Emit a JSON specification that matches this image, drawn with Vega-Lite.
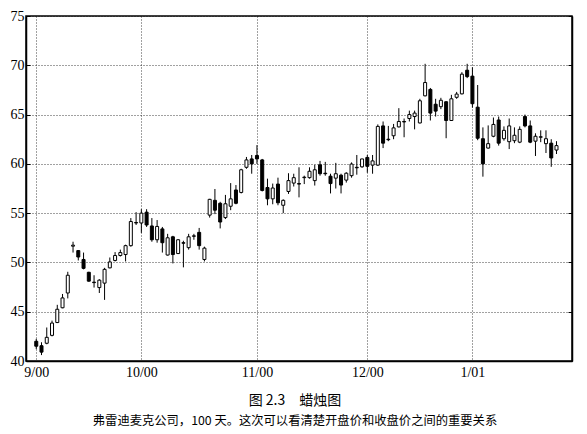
{
  "$schema": "https://vega.github.io/schema/vega-lite/v6.json",
  "width": 546,
  "height": 345,
  "autosize": {"type": "none"},
  "padding": {"left": 26, "top": 16, "right": 15, "bottom": 73},
  "background": "white",
  "config": {
    "view": {"stroke": "black", "strokeWidth": 1.5},
    "axis": {
      "labelFont": "Liberation Serif, Times New Roman, serif",
      "labelFontSize": 14,
      "labelColor": "black",
      "domainColor": "black",
      "domainWidth": 1.5,
      "tickColor": "black",
      "gridColor": "#111111",
      "gridDash": [1, 2],
      "gridWidth": 0.8,
      "gridOpacity": 1,
      "title": null
    }
  },
  "title": {
    "text": "图 2.3　蜡烛图",
    "subtitle": "弗雷迪麦克公司，100 天。这次可以看清楚开盘价和收盘价之间的重要关系",
    "orient": "bottom",
    "anchor": "middle",
    "font": "Noto Sans CJK SC",
    "fontSize": 14,
    "fontWeight": "normal",
    "color": "black",
    "subtitleFont": "Noto Sans CJK SC",
    "subtitleFontSize": 12.3,
    "subtitleColor": "black",
    "offset": 15,
    "subtitlePadding": 7,
    "dx": -4
  },
  "data": {
    "values": [
      {"i": 0, "open": 42.0, "high": 42.25, "low": 41.2, "close": 41.5},
      {"i": 1, "open": 41.55, "high": 41.9, "low": 40.6, "close": 40.9},
      {"i": 2, "open": 41.8, "high": 43.4, "low": 41.7, "close": 42.4},
      {"i": 3, "open": 42.6, "high": 44.1, "low": 42.5, "close": 43.85},
      {"i": 4, "open": 43.9, "high": 45.7, "low": 43.85, "close": 45.25},
      {"i": 5, "open": 45.4, "high": 46.8, "low": 45.35, "close": 46.4},
      {"i": 6, "open": 46.9, "high": 49.05, "low": 46.35, "close": 48.7},
      {"i": 7, "open": 51.65, "high": 52.1, "low": 51.0, "close": 51.75},
      {"i": 8, "open": 51.2, "high": 51.25, "low": 50.2, "close": 50.55},
      {"i": 9, "open": 50.3, "high": 51.0, "low": 49.3, "close": 49.4},
      {"i": 10, "open": 49.0, "high": 49.05, "low": 48.05, "close": 48.1},
      {"i": 11, "open": 48.0, "high": 48.7, "low": 47.45, "close": 47.95},
      {"i": 12, "open": 47.45, "high": 48.3, "low": 46.9, "close": 48.2},
      {"i": 13, "open": 47.9, "high": 49.45, "low": 46.2, "close": 49.3},
      {"i": 14, "open": 49.45, "high": 50.5, "low": 49.4, "close": 50.05},
      {"i": 15, "open": 50.2, "high": 51.05, "low": 50.1, "close": 50.7},
      {"i": 16, "open": 50.7, "high": 51.3, "low": 50.6, "close": 51.0},
      {"i": 17, "open": 50.8, "high": 51.8, "low": 50.1, "close": 51.7},
      {"i": 18, "open": 51.7, "high": 54.5, "low": 51.6, "close": 54.15},
      {"i": 19, "open": 54.05, "high": 55.1, "low": 53.8, "close": 54.0},
      {"i": 20, "open": 54.0, "high": 55.4, "low": 53.0, "close": 55.0},
      {"i": 21, "open": 55.1, "high": 55.4, "low": 53.6, "close": 53.8},
      {"i": 22, "open": 53.7, "high": 54.5, "low": 52.1, "close": 52.3},
      {"i": 23, "open": 52.3, "high": 54.3, "low": 52.0, "close": 53.65},
      {"i": 24, "open": 53.4, "high": 53.6, "low": 51.0, "close": 52.0},
      {"i": 25, "open": 50.75, "high": 52.9, "low": 50.7, "close": 52.5},
      {"i": 26, "open": 52.6, "high": 52.7, "low": 49.9, "close": 50.8},
      {"i": 27, "open": 50.9, "high": 52.35, "low": 50.85, "close": 52.3},
      {"i": 28, "open": 52.0, "high": 52.2, "low": 49.5, "close": 51.95},
      {"i": 29, "open": 51.5, "high": 52.9, "low": 51.3, "close": 52.6},
      {"i": 30, "open": 52.65, "high": 52.9, "low": 52.3, "close": 52.7},
      {"i": 31, "open": 53.05, "high": 53.5, "low": 51.3, "close": 51.7},
      {"i": 32, "open": 50.3, "high": 51.6, "low": 50.1, "close": 51.45},
      {"i": 33, "open": 54.8, "high": 56.45, "low": 54.55, "close": 56.4},
      {"i": 34, "open": 56.3, "high": 57.45, "low": 54.9, "close": 55.3},
      {"i": 35, "open": 56.0, "high": 56.15, "low": 53.45, "close": 54.1},
      {"i": 36, "open": 54.55, "high": 56.85, "low": 54.4, "close": 55.95},
      {"i": 37, "open": 55.7, "high": 58.05, "low": 55.3, "close": 56.45},
      {"i": 38, "open": 57.35, "high": 57.85, "low": 55.9, "close": 56.0},
      {"i": 39, "open": 57.1, "high": 59.5, "low": 57.0, "close": 59.4},
      {"i": 40, "open": 59.65, "high": 60.7, "low": 59.5, "close": 60.4},
      {"i": 41, "open": 60.5, "high": 60.9, "low": 59.0, "close": 60.0},
      {"i": 42, "open": 60.85, "high": 61.9, "low": 60.0, "close": 60.5},
      {"i": 43, "open": 60.4, "high": 60.5, "low": 57.2, "close": 57.3},
      {"i": 44, "open": 57.6, "high": 58.5, "low": 55.8, "close": 56.45},
      {"i": 45, "open": 56.45, "high": 58.0, "low": 55.9, "close": 57.55},
      {"i": 46, "open": 57.95, "high": 58.6, "low": 55.8, "close": 56.05},
      {"i": 47, "open": 55.8, "high": 56.4, "low": 55.0, "close": 56.3},
      {"i": 48, "open": 57.2, "high": 59.05, "low": 56.95, "close": 58.3},
      {"i": 49, "open": 58.05, "high": 59.0, "low": 57.7, "close": 58.6},
      {"i": 50, "open": 58.0, "high": 59.65, "low": 56.6, "close": 57.95},
      {"i": 51, "open": 58.6, "high": 58.8, "low": 57.95, "close": 58.65},
      {"i": 52, "open": 58.6, "high": 59.65, "low": 58.5, "close": 59.25},
      {"i": 53, "open": 58.3, "high": 59.9, "low": 57.8, "close": 59.4},
      {"i": 54, "open": 59.9, "high": 60.3, "low": 58.8, "close": 59.0},
      {"i": 55, "open": 59.05, "high": 60.2, "low": 58.8, "close": 59.0},
      {"i": 56, "open": 58.75, "high": 59.0, "low": 57.0, "close": 58.0},
      {"i": 57, "open": 58.55, "high": 60.1, "low": 57.5, "close": 59.0},
      {"i": 58, "open": 58.85, "high": 59.0, "low": 57.0, "close": 57.85},
      {"i": 59, "open": 58.35, "high": 59.15, "low": 58.1, "close": 59.05},
      {"i": 60, "open": 58.8, "high": 60.15, "low": 58.6, "close": 59.98},
      {"i": 61, "open": 59.65, "high": 60.9, "low": 58.9, "close": 59.6},
      {"i": 62, "open": 59.7, "high": 60.5, "low": 59.6, "close": 60.5},
      {"i": 63, "open": 60.65, "high": 60.9, "low": 59.1, "close": 59.75},
      {"i": 64, "open": 59.87, "high": 60.9, "low": 59.0, "close": 60.3},
      {"i": 65, "open": 59.87, "high": 64.0, "low": 59.8, "close": 63.8},
      {"i": 66, "open": 63.85, "high": 64.3, "low": 61.6, "close": 62.1},
      {"i": 67, "open": 62.5, "high": 63.85, "low": 62.3, "close": 62.45},
      {"i": 68, "open": 62.85, "high": 64.05, "low": 62.5, "close": 63.65},
      {"i": 69, "open": 63.75, "high": 65.65, "low": 63.7, "close": 64.3},
      {"i": 70, "open": 64.3, "high": 64.6, "low": 62.7, "close": 64.25},
      {"i": 71, "open": 64.6, "high": 65.4, "low": 64.3, "close": 65.0},
      {"i": 72, "open": 64.8, "high": 65.4, "low": 63.5, "close": 65.15},
      {"i": 73, "open": 64.15, "high": 66.6, "low": 64.1, "close": 66.4},
      {"i": 74, "open": 66.9, "high": 70.15, "low": 66.85, "close": 68.25},
      {"i": 75, "open": 67.55, "high": 67.7, "low": 64.4, "close": 65.15},
      {"i": 76, "open": 66.05, "high": 66.6, "low": 64.8, "close": 65.35},
      {"i": 77, "open": 65.8, "high": 66.7, "low": 65.55, "close": 66.45},
      {"i": 78, "open": 66.3, "high": 66.35, "low": 62.6, "close": 64.4},
      {"i": 79, "open": 64.4, "high": 67.0, "low": 64.35, "close": 66.6},
      {"i": 80, "open": 66.75, "high": 67.3, "low": 66.6, "close": 67.08},
      {"i": 81, "open": 67.1, "high": 69.3, "low": 67.05, "close": 69.1},
      {"i": 82, "open": 69.5, "high": 70.15, "low": 68.7, "close": 68.85},
      {"i": 83, "open": 68.9, "high": 69.8, "low": 65.7, "close": 66.1},
      {"i": 84, "open": 65.75, "high": 68.0, "low": 62.4, "close": 62.6},
      {"i": 85, "open": 62.55, "high": 63.7, "low": 58.7, "close": 60.0},
      {"i": 86, "open": 61.6, "high": 63.9, "low": 61.55, "close": 62.05},
      {"i": 87, "open": 62.8, "high": 64.7, "low": 62.7, "close": 64.0},
      {"i": 88, "open": 64.45, "high": 64.8, "low": 61.85, "close": 62.1},
      {"i": 89, "open": 62.55, "high": 63.8, "low": 62.35, "close": 63.4},
      {"i": 90, "open": 62.25, "high": 64.6, "low": 61.5, "close": 63.85},
      {"i": 91, "open": 62.35, "high": 63.7, "low": 62.1, "close": 62.9},
      {"i": 92, "open": 62.2, "high": 63.8, "low": 62.1, "close": 63.5},
      {"i": 93, "open": 64.8, "high": 65.0, "low": 63.7, "close": 63.85},
      {"i": 94, "open": 63.85, "high": 64.4, "low": 62.1, "close": 62.2},
      {"i": 95, "open": 62.3, "high": 63.1, "low": 60.8, "close": 62.8},
      {"i": 96, "open": 62.7, "high": 63.4, "low": 62.2, "close": 62.75},
      {"i": 97, "open": 62.05, "high": 63.4, "low": 61.1, "close": 62.55},
      {"i": 98, "open": 62.1, "high": 62.5, "low": 59.7, "close": 60.6},
      {"i": 99, "open": 61.4, "high": 62.3, "low": 61.0, "close": 61.85}
    ]
  },
  "resolve": {"axis": {"y": "independent"}},
  "layer": [
    {
      "mark": {"type": "rule", "color": "black", "strokeWidth": 1},
      "encoding": {
        "x": {
          "field": "i",
          "type": "quantitative",
          "scale": {"domain": [-1, 101], "nice": false, "zero": false},
          "axis": {
            "values": [0, 20, 42, 63, 83],
            "labelExpr": "datum.value == 0 ? '9/00' : datum.value == 20 ? '10/00' : datum.value == 42 ? '11/00' : datum.value == 63 ? '12/00' : '1/01'",
            "grid": true,
            "ticks": false,
            "labelPadding": 4,
            "labelFlush": false
          }
        },
        "y": {
          "field": "low",
          "type": "quantitative",
          "scale": {"domain": [40, 75], "nice": false, "zero": false},
          "axis": {
            "values": [40, 45, 50, 55, 60, 65, 70, 75],
            "grid": true,
            "tickSize": -4,
            "labelPadding": 6,
            "labelFlush": false
          }
        },
        "y2": {"field": "high"}
      }
    },
    {
      "mark": {"type": "bar", "size": 3, "stroke": "black", "strokeWidth": 1},
      "encoding": {
        "x": {"field": "i", "type": "quantitative"},
        "y": {
          "field": "open",
          "type": "quantitative",
          "axis": {
            "orient": "right",
            "values": [40, 45, 50, 55, 60, 65, 70, 75],
            "labels": false,
            "grid": false,
            "tickSize": -4
          }
        },
        "y2": {"field": "close"},
        "fill": {
          "condition": {"test": "datum.close >= datum.open", "value": "white"},
          "value": "black"
        }
      }
    }
  ]
}
